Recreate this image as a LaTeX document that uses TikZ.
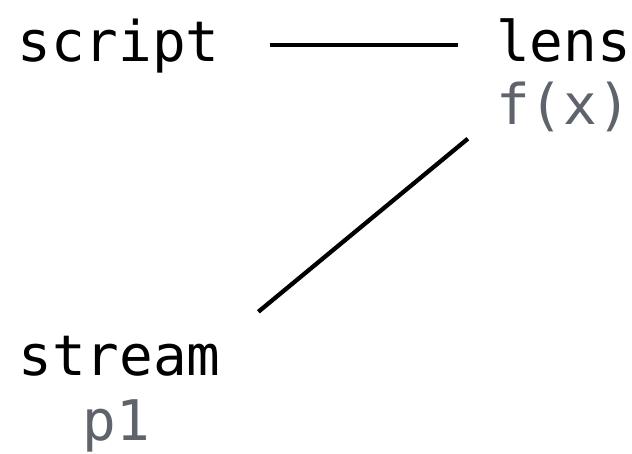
\documentclass[tikz,border=0pt]{standalone}
\usepackage{fontspec}
\setmonofont{DejaVu Sans Mono}
\definecolor{subgray}{RGB}{95,99,107}
\begin{document}
\begin{tikzpicture}[x=1pt,y=-1pt,
  lbl/.style={inner sep=0pt,anchor=base,font=\fontsize{56}{60}\selectfont\ttfamily,
    text height=42.5pt,text depth=13.5pt},
  sub/.style={lbl,text=subgray},
  conn/.style={line width=4.3pt}]
\useasboundingbox (0,0) rectangle (632,454);
\node[lbl] (script) at (118.5,62) {script};
\node[lbl] (lens) at (563.5,62) {lens};
\node[sub] (lensf) at (563.5,125) {f(x)};
\node[lbl] (stream) at (119.5,375) {stream};
\node[sub] (streamp) at (116.5,440) {p1};
\draw[conn] ([xshift=50pt,yshift=2.5pt]script.east) -- ([xshift=-38pt,yshift=2.5pt]lens.west |- script.east);
\draw[conn] ([xshift=-28pt]lensf.south west) -- ([xshift=37.5pt,yshift=20.5pt]stream.north east);
\end{tikzpicture}
\end{document}
